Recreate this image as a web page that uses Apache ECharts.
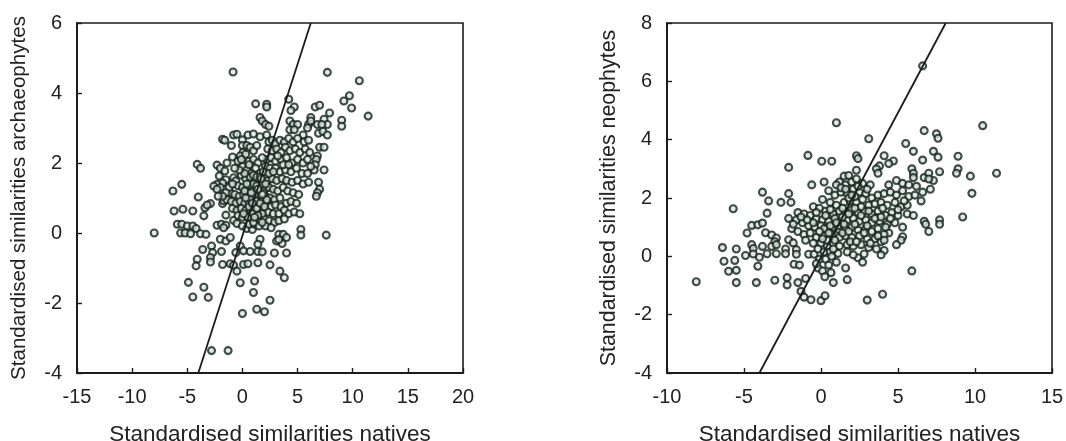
<!DOCTYPE html>
<html><head><meta charset="utf-8">
<style>html,body{margin:0;padding:0;background:#fff}#c{width:1066px;height:441px}</style>
<script src="https://cdn.jsdelivr.net/npm/echarts@6/dist/echarts.min.js"></script>
</head><body><div id="c"></div>
<script>
const xTicksLeft = [-15,-10,-5,0,5,10,15,20];
const yTicksLeft = [-4,-2,0,2,4,6];
const xTicksRight = [-10,-5,0,5,10,15];
const yTicksRight = [-4,-2,0,2,4,6,8];
const xTitle = 'Standardised similarities natives';
const yTitleLeft = 'Standardised similarities archaeophytes';
const yTitleRight = 'Standardised similarities neophytes';
const fitLeft = [[-4,-4],[6.2,6]];
const fitRight = [[-4,-4],[8.1,8]];
const archaeoOuter = [[-0.85,4.6],[7.7,4.59],[10.6,4.35],[9.7,3.92],[9.2,3.77],[9.9,3.57],[11.4,3.34],[1.2,3.69],[2.2,3.68],[2.2,3.6],[4.2,3.82],[4.7,3.6],[4.4,3.5],[6.6,3.6],[7,3.65],[7.9,3.43],[9,3.22],[9,3.05],[1.6,3.3],[1.8,3.2],[2.1,3.1],[2.4,3.05],[4.3,3.2],[4.6,3.1],[5,3.1],[4.3,2.95],[4.7,2.95],[6.2,3.3],[6,3.1],[5.9,3],[6.8,3.1],[7.4,3.25],[7.7,3.1],[7.2,3.1],[6.2,3.2],[5.5,2.8],[6.9,2.85],[7.3,2.9],[7.7,2.8],[7,2.45],[7.4,2.45],[7.4,1.8],[6.8,2.2],[6.7,2.1],[6.6,1.95],[6.5,1.8],[6.9,1.45],[7,1.25],[6.8,1.15],[6.7,1.05],[-8,0],[7.6,-0.06],[5.3,0.1],[5.3,-0.06],[-6.2,0.63],[-5.4,0.68],[-4.5,0.63],[-3.5,0.49],[-3.4,0.72],[-2.9,0.84],[-3.2,0.8],[-6.3,1.2],[-4,1.03],[-5.9,0.25],[-5.5,0.25],[-5,0.2],[-4.5,0.2],[-4.2,0.13],[-5.6,0],[-5.2,0],[-4.7,-0.02],[-3.8,-0.02],[-3.3,-0.04],[-2.3,0.22],[-1.9,0.25],[-1.5,0.22],[-1.7,0.15],[-1.5,0.51],[-1.8,0.84],[-1.7,0.92],[-0.8,0.36],[-0.5,0.27],[0,0.2],[0.4,0.13],[0.9,0.1],[-3.6,-0.47],[-2.8,-0.37],[-2.7,-0.56],[-2.9,-0.7],[-2.9,-0.83],[-4.1,-0.75],[-4.2,-0.94],[-1.9,-0.53],[-2,-0.18],[-1.5,-0.23],[-1.1,-0.13],[-1.8,-0.9],[-1.1,-0.88],[-0.8,-0.92],[-0.5,-1.09],[-0.6,-0.56],[-0.2,-0.37],[0.1,-0.51],[0.7,-0.53],[1.4,-0.53],[1.8,-0.54],[1.6,-0.18],[1.4,-0.32],[0.1,-0.9],[0.5,-0.88],[1.4,-0.85],[2.5,-0.91],[2.9,-0.57],[4,-0.57],[3.3,-0.04],[3.7,-0.04],[4,-0.13],[3.1,-0.23],[3.6,-0.3],[3.3,-0.19],[3.4,-1.09],[3.8,-1.28],[-0.2,-1.42],[1.1,-1.37],[1,-1.7],[2.5,-1.92],[1.3,-2.18],[2,-2.25],[0,-2.3],[-4.9,-1.41],[-3.5,-1.55],[-4.5,-1.83],[-3.1,-1.84],[-2.8,-3.36],[-1.3,-3.36],[-4.1,1.96],[-3.8,1.85],[-2.3,1.94],[-2,1.85],[-1.6,1.77],[-1.4,2],[-0.9,2.17],[-5.5,1.39],[-2.1,1.63],[-1.5,1.52],[-1.8,1.43],[-2.3,1.39],[-2.6,1.34],[-2,1.3],[-2.3,1.25],[-0.8,1.58],[-0.6,1.49],[-1.8,2.68],[-1.6,2.65],[-0.8,2.8],[-0.5,2.82],[-1,2.5],[0,2.66],[0.5,2.8],[1,2.83],[1.6,2.75],[2.2,2.8],[0,2.5],[0.05,2.3],[-0.2,2.2],[0.3,2.25]];
const archaeoCore = [[0.4,2.5],[0.7,2.45],[1,2.35],[1.3,2.5],[2.4,2.6],[2.7,2.65],[3,2.55],[3.4,2.65],[3.8,2.6],[4.2,2.7],[4.6,2.6],[5,2.7],[5.6,2.6],[6,2.65],[2.3,2.4],[2.7,2.35],[3.1,2.4],[3.5,2.3],[3.9,2.45],[4.3,2.35],[4.8,2.4],[5.2,2.3],[5.7,2.4],[6.1,2.3],[2.2,2.1],[2.6,2.15],[3,2.05],[3.5,2.1],[4,2.15],[4.5,2],[5,2.1],[5.5,2],[5.9,2.1],[6.2,1.9],[0.6,2.05],[1,2.1],[1.4,2],[1.8,2.15],[2.1,1.9],[2.5,1.85],[3,1.85],[3.4,1.75],[3.9,1.8],[4.4,1.75],[4.9,1.85],[5.4,1.7],[5.9,1.7],[0,1.9],[0.4,1.8],[0.8,1.7],[1.2,1.85],[1.6,1.7],[2,1.65],[-0.1,1.65],[0.3,1.55],[0.7,1.45],[1.1,1.55],[1.5,1.45],[1.9,1.45],[2.3,1.5],[2.7,1.55],[3.1,1.5],[3.6,1.55],[4,1.5],[4.5,1.45],[5,1.5],[5.5,1.4],[6,1.45],[-0.4,1.35],[0,1.3],[0.4,1.25],[0.8,1.3],[1.2,1.25],[1.6,1.2],[2,1.25],[2.4,1.3],[2.8,1.25],[3.2,1.2],[3.7,1.3],[4.1,1.2],[4.6,1.15],[5.1,1.1],[-1.1,1.15],[-0.7,1.1],[-0.3,1.05],[0.1,1.1],[0.5,1.05],[0.9,1],[1.3,1.05],[1.7,1],[2.1,1.05],[2.5,1],[2.9,0.95],[3.4,1],[-1.4,0.95],[-1,0.9],[-0.6,0.85],[-0.2,0.9],[0.2,0.85],[0.6,0.85],[1,0.8],[1.4,0.85],[1.8,0.8],[2.2,0.85],[2.6,0.75],[3,0.8],[3.5,0.75],[4,0.85],[4.4,0.9],[4.9,0.85],[-0.9,0.7],[-0.5,0.65],[-0.1,0.7],[0.3,0.65],[0.7,0.6],[1.1,0.65],[1.5,0.6],[1.9,0.65],[2.3,0.6],[2.8,0.55],[3.3,0.55],[3.8,0.65],[4.2,0.55],[4.7,0.6],[5.2,0.55],[-0.4,0.5],[0,0.45],[0.4,0.5],[0.8,0.4],[1.2,0.45],[1.6,0.35],[2,0.4],[2.4,0.35],[2.9,0.3],[3.3,0.35],[3.8,0.4],[0.6,0.25],[1.1,0.25],[1.5,0.2],[2.1,0.2],[2.6,0.15],[0.9,1.2],[1.2,0.95],[1.5,1.1],[1,1.4],[1.7,1.4],[0.5,1.15],[1.9,1.15],[0.2,1.2],[1.4,0.75],[0.9,0.55],[1.3,1.35],[2.2,0.95],[0.7,1],[1.8,0.55]];
const archaeoDense = [[0.3,1],[0.6,0.75],[0.9,0.85],[1.1,1.1],[1.3,0.7],[1.6,0.85],[1.8,1.1],[2,0.75],[0.4,1.4],[0.7,1.6],[1,1.65],[1.3,1.6],[1.6,1.6],[1.9,1.75],[0.5,0.45],[1,0.3],[1.4,0.5],[1.8,0.3],[0.1,0.55],[0.8,1.15],[1.1,0.45],[1.4,1.25],[1.7,1.55],[2.1,1.4],[0.2,1.7],[0.6,1.95],[-0.3,1.8],[-0.4,2.05],[-0.7,1.85],[-0.1,2.1],[2.4,1.7],[2.8,1.75],[3.2,2.2],[3.7,1.95],[4.2,1.95],[-1.2,1.3],[-0.9,1.4],[-1.5,1.15],[-1.8,1.05],[-2.2,1.05]];
const neoOuter = [[6.6,6.53],[1,4.58],[10.5,4.48],[6.7,4.31],[7.5,4.2],[7.6,4.05],[3.1,4.03],[5.5,3.87],[6,3.6],[7.3,3.6],[7.6,3.4],[6.6,3.3],[8.9,3.43],[8.9,3],[8.8,2.85],[9.7,2.75],[11.4,2.85],[9.8,2.16],[-0.85,3.46],[0.05,3.26],[0.7,3.26],[2.3,3.45],[2.4,3.35],[4.1,3.45],[-2.1,3.05],[4.7,3.27],[4.4,3.18],[3.8,3.1],[3.6,3],[3.7,2.85],[5.9,3],[6,2.85],[6,2.7],[2.3,2.95],[1.5,2.75],[1.8,2.77],[6.7,2.7],[7,2.85],[7.3,2.6],[7,2.65],[7.7,2.9],[-0.6,2.45],[0.2,2.55],[-3.8,2.2],[-2.1,2.15],[-5.7,1.63],[-3.4,1.9],[-2.6,1.85],[-1.95,1.85],[-3.5,1.48],[-4.5,1.06],[-4.1,1.08],[-3.8,1.14],[-4.8,0.8],[-3.6,0.81],[-3.2,0.73],[-2.9,0.63],[-3,0.5],[-6.4,0.3],[-5.5,0.25],[-4.5,0.4],[-4.4,0.27],[-3.8,0.34],[-3.2,0.34],[-2.9,0.4],[-2.1,0.57],[-1.8,0.46],[-2.3,0.25],[-1.6,0.23],[-4.9,0.03],[-4.4,0.08],[-4,-0.03],[-3.5,0.09],[-2.9,0.09],[-2.3,0.09],[-1.6,0.07],[-0.8,0.07],[-0.45,0.07],[-6.3,-0.17],[-5.6,-0.14],[-6,-0.51],[-5.5,-0.48],[-4.1,-0.34],[-1.75,-0.27],[-1.4,-0.3],[-8.1,-0.87],[-5.5,-0.9],[-4.2,-0.9],[-3,-0.82],[-2.2,-0.73],[-2.2,-0.98],[-1.5,-0.9],[-1,-0.76],[-1.3,-1.2],[-1.1,-1.4],[-0.65,-1.49],[0,-1.52],[0.26,-1.35],[-0.2,-0.4],[0.1,-0.5],[0.65,-0.56],[0.25,-0.7],[0.8,-0.9],[1.7,-0.8],[1.6,-0.4],[3,-1.5],[4,-1.3],[5.9,-0.5],[9.2,1.35],[7.7,1.25],[7.7,1.1],[6.7,1.2],[6.8,1.1],[7,0.85],[5.3,1],[5.3,0.67],[5.2,0.55],[4.9,0.4],[4.4,0.8],[4.1,0.75],[4.1,0.2],[3.9,0.05],[2.4,-0.05],[2.7,-0.2],[2.8,0.08]];
const neoCore = [[1.2,2.55],[1.6,2.45],[2,2.55],[2.3,2.65],[2.7,2.5],[3.2,2.45],[4.4,2.45],[4.9,2.6],[5.3,2.5],[5.7,2.45],[6.2,2.4],[6.6,2.2],[7.1,2.3],[0.5,2.25],[0.9,2.1],[1.3,2.2],[1.7,2.15],[2.1,2.3],[2.5,2.2],[2.9,2.15],[3.3,2],[3.7,2.1],[4.1,2.15],[4.5,2.2],[4.9,2.1],[5.3,2.25],[5.7,2.05],[6.1,2.1],[6.5,1.9],[0.1,1.95],[0.6,1.85],[1,1.75],[1.5,1.85],[1.9,1.9],[2.3,1.85],[2.7,1.95],[3.1,1.75],[3.5,1.8],[3.9,1.85],[4.3,1.75],[4.8,1.85],[5.2,1.7],[5.6,1.75],[-0.5,1.7],[-0.1,1.65],[0.3,1.55],[0.8,1.45],[1.2,1.55],[1.6,1.5],[2,1.6],[2.4,1.5],[2.8,1.55],[3.3,1.45],[3.7,1.55],[4.2,1.4],[4.6,1.5],[5,1.4],[5.6,1.45],[6,1.4],[-1.5,1.5],[-1.1,1.45],[-0.7,1.4],[-0.3,1.3],[0.1,1.25],[0.5,1.2],[0.9,1.3],[1.3,1.2],[1.7,1.25],[2.1,1.3],[2.5,1.2],[2.9,1.25],[3.3,1.15],[3.8,1.2],[4.3,1.1],[4.8,1.15],[-1.6,1.25],[-1.2,1.15],[-0.8,1.05],[-0.4,1],[0,1.05],[0.4,0.95],[0.8,1],[1.2,0.9],[1.6,0.95],[2,1],[2.4,0.9],[2.9,0.95],[3.3,0.85],[3.7,0.95],[4.2,1],[-1.9,0.95],[-1.5,0.85],[-1.1,0.75],[-0.7,0.8],[-0.3,0.65],[0.2,0.7],[0.7,0.75],[1.2,0.65],[1.6,0.7],[2,0.65],[2.5,0.7],[3,0.6],[3.5,0.6],[3.9,0.5],[-1,0.55],[-0.5,0.45],[0,0.45],[0.4,0.35],[0.8,0.45],[1.2,0.35],[1.7,0.4],[2.1,0.35],[2.6,0.4],[3.1,0.3],[3.6,0.25],[-0.2,0.25],[0.2,0.15],[0.6,0.15],[1.1,0.1],[1.7,0.15],[2.1,0.05],[-0.1,-0.1],[0.3,-0.1],[0.7,0],[1,-0.2],[-0.3,-0.25],[0.5,-0.3],[1,2.45],[1.4,1.65],[0.6,1.6],[2.2,1.1],[1.1,1.05],[1.9,0.5],[1.5,1.1],[0.3,1.4],[2.6,1.7],[3.5,1.3],[1.8,2],[0.9,0.55],[2.2,2.05],[3,2.3],[4,1.65]];
const neoDense = [[0.2,0.95],[0.6,1.05],[1,1.15],[1.4,1.35],[1.8,1.45],[2.2,1.65],[2.6,1.4],[3,1.05],[1.4,0.8],[1.8,0.85],[0.4,0.55],[0.8,0.25],[0.1,0.6],[-0.1,0.85],[-0.5,1.15],[-0.9,1.25],[-1.3,1.35],[-1.8,1.1],[-2.1,1.3],[-0.3,1.5],[2.3,0.5],[2.8,0.8],[3.2,0.45],[3.7,0.7],[4.1,0.55],[1.3,2.35],[2,2.1],[2.4,2.4],[1.6,2.3],[3.1,1.55],[3.9,1.35],[4.5,1.3],[5,1.6],[5.4,1.9],[0.5,0.8]];

const markerStyle = {color:'#dfe7e2', borderColor:'#12221c', borderWidth:2.1};
const tickFont = {color:'#222', fontFamily:'Liberation Sans', fontSize:20};
const nameFontX = {color:'#222', fontFamily:'Liberation Sans', fontSize:22.5};
function xAxis(grid, ticks){
  return {type:'value', gridIndex:grid, min:ticks[0], max:ticks[ticks.length-1], interval:5,
    position:'bottom', name:xTitle, nameLocation:'middle', nameGap:50, nameTextStyle:nameFontX,
    axisLine:{show:true, onZero:false, lineStyle:{color:'#1c1c1c', width:2}},
    axisTick:{show:true, inside:true, length:5, lineStyle:{color:'#1c1c1c', width:1.4}},
    axisLabel:{...tickFont, margin:14, showMinLabel:true, showMaxLabel:true}, splitLine:{show:false}};
}
function yAxis(grid, ticks, title, gap, size){
  return {type:'value', gridIndex:grid, min:ticks[0], max:ticks[ticks.length-1], interval:2,
    name:title, nameLocation:'middle', nameGap:gap, nameTextStyle:{...nameFontX, fontSize:size},
    axisLine:{show:true, onZero:false, lineStyle:{color:'#1c1c1c', width:2}},
    axisTick:{show:true, inside:true, length:5, lineStyle:{color:'#1c1c1c', width:1.4}},
    axisLabel:{...tickFont, margin:15, showMinLabel:true, showMaxLabel:true}, splitLine:{show:false}};
}
function scatter(i, data){
  return {type:'scatter', xAxisIndex:i, yAxisIndex:i, data, symbol:'circle', symbolSize:7, itemStyle:markerStyle, silent:true, z:3};
}
function fit(i, data){
  return {type:'line', xAxisIndex:i, yAxisIndex:i, data, symbol:'none', lineStyle:{color:'#1c1c1c', width:1.8}, silent:true, z:4};
}
const chart = echarts.init(document.getElementById('c'), null, {renderer:'canvas'});
chart.setOption({
  animation:false, backgroundColor:'#fff',
  grid:[{left:77,top:23,width:386,height:350,outerBoundsMode:'none',show:true,borderColor:'#1c1c1c',borderWidth:1.6,backgroundColor:'transparent'},
        {left:667,top:23,width:385,height:350,outerBoundsMode:'none',show:true,borderColor:'#1c1c1c',borderWidth:1.6,backgroundColor:'transparent'}],
  xAxis:[xAxis(0,xTicksLeft), xAxis(1,xTicksRight)],
  yAxis:[yAxis(0,yTicksLeft,yTitleLeft,47,20.6), yAxis(1,yTicksRight,yTitleRight,47,21.4)],
  series:[scatter(0,archaeoOuter.concat(archaeoCore,archaeoDense)), fit(0,fitLeft), scatter(1,neoOuter.concat(neoCore,neoDense)), fit(1,fitRight)]
});
</script></body></html>
